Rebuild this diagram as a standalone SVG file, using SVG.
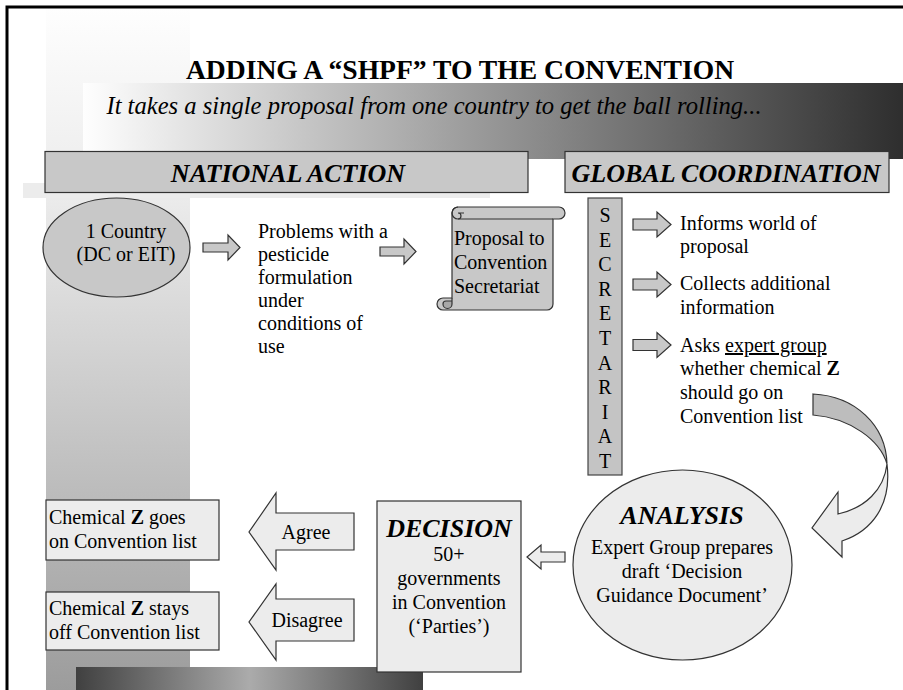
<svg xmlns="http://www.w3.org/2000/svg" width="903" height="690" viewBox="0 0 903 690" font-family="'Liberation Serif', 'DejaVu Serif', serif">
<defs>
<linearGradient id="gCol" x1="0" y1="0" x2="0" y2="1">
<stop offset="0" stop-color="#fefefe"/>
<stop offset="0.28" stop-color="#ebebeb"/>
<stop offset="1" stop-color="#9c9c9c"/>
</linearGradient>
<linearGradient id="gBand" x1="0" y1="0" x2="1" y2="0">
<stop offset="0" stop-color="#fefefe"/>
<stop offset="1" stop-color="#2e2e2e"/>
</linearGradient>
<linearGradient id="gBot" x1="0" y1="0" x2="1" y2="0">
<stop offset="0" stop-color="#404040"/>
<stop offset="0.5" stop-color="#ababab"/>
<stop offset="1" stop-color="#404040"/>
</linearGradient>
<style>
text{font-family:'Liberation Serif','DejaVu Serif',serif;fill:#000}
.t{font-size:20px}
.h{font-size:26px;font-weight:bold;font-style:italic}
.c{text-anchor:middle}
.mid{fill:#c8c8c8;stroke:#333;stroke-width:1.2}
.lt{fill:#ececec;stroke:#333;stroke-width:1.2}
.b{font-weight:bold}
</style>
</defs>
<rect width="903" height="690" fill="#fff"/>
<rect x="46" y="8" width="144" height="682" fill="url(#gCol)"/>
<rect x="83" y="83" width="820" height="76" fill="url(#gBand)"/>
<rect x="23" y="183" width="467" height="15" fill="#ececec"/>
<rect x="76" y="667" width="347" height="23" fill="url(#gBot)"/>
<rect x="7" y="7" width="1000" height="1000" fill="none" stroke="#000" stroke-width="3"/>

<g id="title">
<text x="460" y="79" class="c b" style="font-size:27.6px">ADDING A “SHPF” TO THE CONVENTION</text>
<text x="434" y="114" class="c" style="font-size:24.6px;font-style:italic">It takes a single proposal from one country to get the ball rolling...</text>
</g>

<g id="national-action">
<rect x="45" y="151.5" width="483" height="41" class="mid"/>
<text x="288" y="182" class="h c">NATIONAL ACTION</text>
</g>

<g id="global-coordination">
<rect x="565" y="151.5" width="324" height="41" class="mid"/>
<text x="726" y="182" class="h c">GLOBAL COORDINATION</text>
</g>

<g id="country">
<ellipse cx="116.5" cy="247.5" rx="73.5" ry="49.5" class="mid"/>
<text x="126" y="238" class="t c">1 Country</text>
<text x="126" y="261" class="t c">(DC or EIT)</text>
</g>

<g id="problems">
<text class="t" x="258" y="237.5">Problems with a</text>
<text class="t" x="258" y="260.5">pesticide</text>
<text class="t" x="258" y="283.5">formulation</text>
<text class="t" x="258" y="306.5">under</text>
<text class="t" x="258" y="329.5">conditions of</text>
<text class="t" x="258" y="352.5">use</text>
</g>

<g id="proposal">
<path d="M458,207 L559,207 A6,6 0 0 1 559,219 L553,219 L553,304 A6,6 0 0 1 547,310 L443,310 A6,6 0 0 1 443,298 L452,298 L452,213 A6,6 0 0 1 458,207 Z" class="mid"/>
<path d="M458,219 L553,219" fill="none" stroke="#333" stroke-width="1.2"/>
<path d="M458,219 A6,6 0 0 1 458,207 M458,219 A3,3 0 0 0 458,213 L464,213" fill="none" stroke="#333" stroke-width="1.2"/>
<path d="M452,298 L452,304 A4.5,4.5 0 0 1 443,304 A3,3 0 0 1 446,301 L452,301" fill="#a8a8a8" stroke="#333" stroke-width="1.2"/>
<text class="t" x="454" y="245">Proposal to</text>
<text class="t" x="454" y="269">Convention</text>
<text class="t" x="454" y="293">Secretariat</text>
</g>

<g id="secretariat">
<rect x="588" y="198" width="34" height="277" fill="#c4c4c4" stroke="#444" stroke-width="1.2"/>
<text class="t c" x="605" y="222">S</text>
<text class="t c" x="605" y="246.6">E</text>
<text class="t c" x="605" y="271.2">C</text>
<text class="t c" x="605" y="295.8">R</text>
<text class="t c" x="605" y="320.4">E</text>
<text class="t c" x="605" y="345">T</text>
<text class="t c" x="605" y="369.6">A</text>
<text class="t c" x="605" y="394.2">R</text>
<text class="t c" x="605" y="418.8">I</text>
<text class="t c" x="605" y="443.4">A</text>
<text class="t c" x="605" y="468">T</text>
</g>

<g id="tasks">
<text class="t" x="680" y="230">Informs world of</text>
<text class="t" x="680" y="253">proposal</text>
<text class="t" x="680" y="290">Collects additional</text>
<text class="t" x="680" y="314">information</text>
<text class="t" x="680" y="352">Asks <tspan text-decoration="underline">expert group</tspan></text>
<text class="t" x="680" y="375">whether chemical <tspan class="b">Z</tspan></text>
<text class="t" x="680" y="399">should go on</text>
<text class="t" x="680" y="423">Convention list</text>
</g>

<g id="analysis">
<ellipse cx="682.5" cy="565" rx="109.5" ry="95" class="lt"/>
<text class="h c" x="682" y="524">ANALYSIS</text>
<text class="t c" x="682" y="554">Expert Group prepares</text>
<text class="t c" x="682" y="578">draft ‘Decision</text>
<text class="t c" x="682" y="602">Guidance Document’</text>
</g>

<g id="decision">
<rect x="377" y="501" width="144" height="171" class="lt"/>
<text class="h c" x="449" y="537">DECISION</text>
<text class="t c" x="449" y="561">50+</text>
<text class="t c" x="449" y="585">governments</text>
<text class="t c" x="449" y="609">in Convention</text>
<text class="t c" x="449" y="633">(‘Parties’)</text>
</g>

<g id="goes-on">
<rect x="46" y="500" width="173" height="60" class="lt"/>
<text class="t" x="49" y="524">Chemical <tspan class="b">Z</tspan> goes</text>
<text class="t" x="49" y="548">on Convention list</text>
</g>

<g id="stays-off">
<rect x="46" y="592" width="173" height="58" class="lt"/>
<text class="t" x="49" y="615">Chemical <tspan class="b">Z</tspan> stays</text>
<text class="t" x="49" y="639">off Convention list</text>
</g>

<g id="connectors">
<path d="M203,243 L228,243 L228,235 L240,247.5 L228,260 L228,252 L203,252 Z" class="mid"/>
<path d="M380,247 L404,247 L404,239 L416,251.5 L404,264 L404,256 L380,256 Z" class="mid"/>
<path d="M633,219 L657,219 L657,212 L671,224.5 L657,237 L657,230 L633,230 Z" class="mid"/>
<path d="M633,279 L657,279 L657,272 L671,284.5 L657,297 L657,290 L633,290 Z" class="mid"/>
<path d="M633,339.5 L657,339.5 L657,332.5 L671,345 L657,357.5 L657,350.5 L633,350.5 Z" class="mid"/>
<path d="M813,394 C855,396 886,425 887,464 C880,440 850,418 813,415 Z" fill="#bdbdbd" stroke="#333" stroke-width="1.2"/>
<path d="M887,464 C884,490 865,508 838,514 L838,492 L812,528 L842,557 L842,541 C872,531 892,505 887,464 Z" class="lt"/>
<path d="M565,552 L541,552 L541,545 L527,557 L541,569 L541,562 L565,562 Z" class="lt"/>
<path d="M354,513 L276,513 L276,493 L249,532 L276,570 L276,550 L354,550 Z" class="lt"/>
<text class="t c" x="306" y="539">Agree</text>
<path d="M354,599 L276,599 L276,584 L249,622 L276,660 L276,641 L354,641 Z" class="lt"/>
<text class="t c" x="307" y="627">Disagree</text>
</g>
</svg>
